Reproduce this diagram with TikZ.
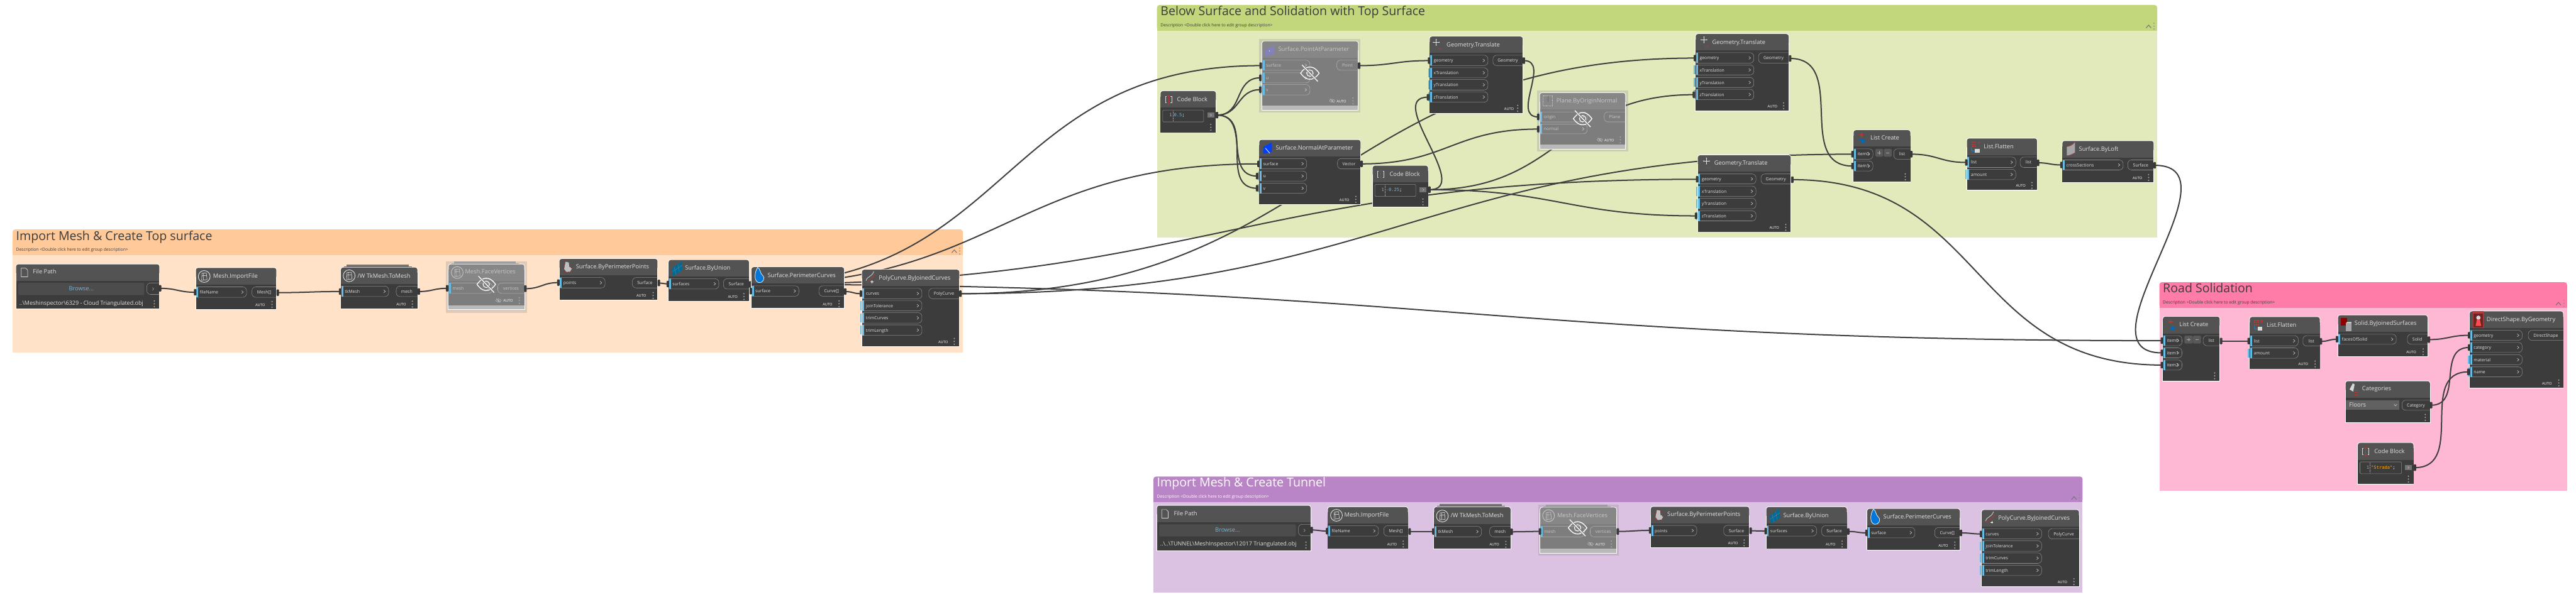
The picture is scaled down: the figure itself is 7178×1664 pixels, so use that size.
\documentclass[tikz,border=0pt]{standalone}
\usepackage{fontspec}
\setmainfont{Open Sans}
\newfontfamily\codefont{DejaVu Sans Mono}
\usetikzlibrary{calc}
\pgfdeclarelayer{grouplayer}
\pgfdeclarelayer{wirelayer}
\pgfsetlayers{grouplayer,wirelayer,main}
\definecolor{hdr}{HTML}{535353}
\definecolor{bdy}{HTML}{3C3C3C}
\definecolor{fhdr}{HTML}{878787}
\definecolor{fbdy}{HTML}{7D7D7D}
\definecolor{ffoot}{HTML}{B9B9B9}
\definecolor{wirec}{HTML}{404040}
\definecolor{portblue}{HTML}{68BBE3}
\definecolor{gtxt}{HTML}{3C3C3C}
\definecolor{redi}{HTML}{B23A3A}
\definecolor{ah}{HTML}{FFC999}\definecolor{ab}{HTML}{FFE2C8}
\definecolor{bh}{HTML}{C2D77B}\definecolor{bb}{HTML}{E2E9BB}
\definecolor{ch}{HTML}{FF7BA8}\definecolor{cb}{HTML}{FFB8D3}
\definecolor{dh}{HTML}{BA85C6}\definecolor{db}{HTML}{DCC2E2}
\colorlet{HC}{hdr}\colorlet{BC}{bdy}\colorlet{TC}{white!88!black}\colorlet{PLC}{white!55!black}
\tikzset{
  x=0.02cm,y=-0.02cm,
  wire/.style={draw=wirec,line width=2pt,line cap=round},
  lab/.style={inner sep=0pt,outer sep=0pt,anchor=west,text height=.75em,text depth=.2em},
  clab/.style={lab,anchor=center},
  title/.style={lab,font=\fontsize{9.3}{11}\selectfont,text=TC},
  portt/.style={lab,font=\fontsize{6.9}{8}\selectfont,text=TC},
  cportt/.style={clab,font=\fontsize{6.9}{8}\selectfont,text=TC},
  auto/.style={clab,font=\fontsize{5.7}{7}\selectfont,text=white},
  gtitle/.style={lab,font=\fontsize{19.5}{22}\selectfont},
  gdesc/.style={lab,font=\fontsize{6.7}{8}\selectfont},
  portline/.style={draw=PLC,line width=.55pt,rounded corners=6pt},
}
\newcounter{tn}
\newcommand{\T}[4][lab]{\stepcounter{tn}\node[#1] (t\arabic{tn}) at ({#2},{#3}) {#4};}
\newcommand{\Group}[9]{% x1 y1 yh x2 y2 hcol bcol title desc (text colour from \gcol)
  \begin{pgfonlayer}{grouplayer}
  \fill[#6,rounded corners=4pt] (#1,#2) rectangle (#4,#3);
  \fill[#6] (#1,#2+30) rectangle (#4,#3);
  \fill[#7] (#1,#3) rectangle (#4,#5);
  \end{pgfonlayer}
  \T[gtitle,text=\gcol]{#1+10}{#3-47}{#8}
  \T[gdesc,text=\gcol]{#1+10}{#3-16}{#9}
  \draw[black!55,line width=1pt] (#4-31,#3-7) -- (#4-24,#3-15) -- (#4-17,#3-7);
  \foreach \k in {-19,-11,-3}{\draw[black!45,line width=.3pt] (#4-9,#3+\k-1) circle (1.6);}
}
\newcommand{\Dyn}[9]{% name x1 y1 x2 y2 yh tx ty title
  \node[anchor=north west,inner sep=0pt,outer sep=0pt,minimum width={(#4-#2)*0.02cm},minimum height={(#5-#3)*0.02cm}] (#1) at (#2,#3) {};
  \fill[white,rounded corners=4pt] (#2-1.5,#3-1.5) rectangle (#4+1.5,#3+30);
  \fill[white] (#2-1.5,#3+15) rectangle (#4+1.5,#5+1.5);
  \fill[HC,rounded corners=3.5pt] (#2,#3) rectangle (#4,#3+30);
  \fill[HC] (#2,#3+15) rectangle (#4,#6);
  \fill[BC] (#2,#6) rectangle (#4,#5);
  \T[title]{#7}{#8}{#9}
}
\newcommand{\PIn}[6]{% x1 x2 y1 y2 label extra
  \draw[portline] (#1,#3) -- (#2,#3) -- (#2,#4) -- (#1,#4);
  \fill[portblue] (#1+1,#3) rectangle (#1+6.5,#4);
  \ifnum#6=1 \fill[portblue] (#1-5,#3+2) rectangle (#1-1,#4-2);\fi
  \T[portt]{#1+11}{(#3+#4)/2}{#5}
  \draw[white!85!black,line width=.5pt] (#2-14,{(#3+#4)/2-4}) -- (#2-9,{(#3+#4)/2}) -- (#2-14,{(#3+#4)/2+4});
}
\newcommand{\POut}[5]{% x1 x2 y1 y2 label
  \draw[portline] (#2,#3) -- (#1,#3) -- (#1,#4) -- (#2,#4);
  \T[cportt]{(#1+#2)/2}{(#3+#4)/2}{#5}
}
\newcommand{\Pin}[3]{\coordinate (#1) at (#2,#3);\fill[black!78,rounded corners=1pt] (#2-3.5,#3-9) rectangle (#2+3.5,#3+9);}
\newcommand{\Vd}[2]{\foreach \k in {-8,0,8}{\fill[black!35] (#1,#2+\k) circle (2);}}
\newcommand{\Auto}[3]{\T[auto]{#1}{#3}{AUTO}\Vd{#2}{#3}}
\newcommand{\Wire}[2]{\begin{pgfonlayer}{wirelayer}\draw[wire] let \p1=(#1),\p2=(#2),\n1={0.47*veclen(\x2-\x1,\y2-\y1)} in (\p1) .. controls ($(\p1)+(\n1,0pt)$) and ($(\p2)-(\n1,0pt)$) .. (\p2);\end{pgfonlayer}}
\newcommand{\Eye}[2]{\begin{scope}[shift={(#1,#2)}]
  \draw[white,line width=1.3pt,line join=round] (-26,0) .. controls (-14,-16) and (-6,-17) .. (0,-17) .. controls (6,-17) and (14,-16) .. (26,0) .. controls (14,16) and (6,17) .. (0,17) .. controls (-6,17) and (-14,16) .. (-26,0) -- cycle;
  \draw[white,line width=1.1pt] (0,0) circle (9);
  \draw[fbdy,line width=3pt] (-21,-22) -- (21,22);
  \draw[white,line width=1.3pt] (-22,-23) -- (22,23);
\end{scope}}
\newcommand{\SEye}[2]{\begin{scope}[shift={(#1,#2)},white!80!black,line width=.35pt]
  \draw (-8,0) .. controls (-3,-6) and (3,-6) .. (8,0) .. controls (3,6) and (-3,6) .. (-8,0);
  \draw (0,0) circle (2.5);\draw (-6,-6) -- (6,6);
\end{scope}}
\newcommand{\Halo}[4]{\fill[black!45,fill opacity=.28] (#1,#2) rectangle (#3,#4);}
\newcommand{\Stack}[4]{\colorlet{stk}{#4}\fill[stk] (#1+16,#3-8) rectangle (#2-24,#3-3);\fill[stk!75!black] (#1+8,#3-3) rectangle (#2-16,#3);}
\newcommand{\IMesh}[2]{\begin{scope}[shift={(#1,#2)}]\draw[TC,line width=.9pt] (0,0) circle (16.5);
  \draw[TC,line width=.6pt] (-6,-9) -- (6,-10) -- (8,9) -- (-7,11) -- cycle (-6,-2) -- (7,-3) (-2,-9.5) -- (-2,10);\end{scope}}
\newcommand{\IFile}[2]{\begin{scope}[shift={(#1,#2)}]\draw[white!85!black,line width=.7pt,line join=round] (-9,-12) -- (4,-12) -- (9,-7) -- (9,12) -- (-9,12) -- cycle;
  \foreach \k in {-4,0,4}{\fill[redi] (\k,3) circle (1.2);}\end{scope}}
\newcommand{\ISBPP}[2]{\begin{scope}[shift={(#1,#2)}]\fill[white!75!black] (-5,-14) -- (4,-12) -- (5,0) -- (13,4) -- (7,14) -- (-3,14) -- (-9,6) -- cycle;
  \foreach \a/\b in {-3/-17,6/-8,-10/-6,-11/4,12/3,4/15,-4/17,-9/13}{\fill[redi!85!black] (\a-1.5,\b-1.5) rectangle (\a+1.5,\b+1.5);}\end{scope}}
\newcommand{\ISBU}[2]{\begin{scope}[shift={(#1,#2)}]\fill[blue!30!cyan!60!black] (-15,0) -- (0,-10) -- (13,-20) -- (14,5) -- (2,14) -- (-12,22) -- cycle;
  \draw[black!50,line width=.3pt] (-14,10) -- (14,-8) (-8,-3) -- (-3,18) (2,-10) -- (6,10);\end{scope}}
\newcommand{\ISPC}[2]{\begin{scope}[shift={(#1,#2)}]\fill[blue!45!cyan!85!black,draw=white,line width=.7pt] (-6,-22) .. controls (2,-20) and (0,-6) .. (8,0) .. controls (17,8) and (8,22) .. (-2,20) .. controls (-16,18) and (-16,-6) .. (-6,-22) -- cycle;\end{scope}}
\newcommand{\IPC}[2]{\begin{scope}[shift={(#1,#2)},line width=.9pt]\draw[white!80!black] (-12,8) .. controls (-8,-6) and (2,0) .. (10,-18);\draw[redi] (-8,14) .. controls (-4,0) and (6,6) .. (12,-10);\draw[white,line width=.5pt] (1,11) -- (9,11) (5,7) -- (5,15);\end{scope}}
\newcommand{\IPoint}[2]{\begin{scope}[shift={(#1,#2)}]\fill[blue!30!gray!75!white] (-13,-3) -- (12,-15) -- (12,10) -- (-13,16) -- cycle;\fill[white] (-2,1) circle (1.3);\end{scope}}
\newcommand{\INormal}[2]{\begin{scope}[shift={(#1,#2)}]\fill[blue!75!cyan] (-12,-3) -- (12,-16) -- (12,11) -- (-12,16) -- cycle;\draw[white,line width=.7pt] (-6,0) -- (6,14);\end{scope}}
\newcommand{\ICode}[2]{\begin{scope}[shift={(#1,#2)},line width=.7pt]\draw[white!85!black] (-6,-9) -- (-9,-9) -- (-9,9) -- (-6,9) (6,-9) -- (9,-9) -- (9,9) -- (6,9);\draw[redi] (-3,-11) -- (3,-11) (0,-11) -- (0,11) (-3,11) -- (3,11);\end{scope}}
\newcommand{\ITrans}[2]{\begin{scope}[shift={(#1,#2)}]\draw[white!90!black,line width=.6pt] (-8,-6) -- (8,-6) (0,-14) -- (0,2);\foreach \a/\b in {-8/-6,8/-6,0/-14,0/2}{\fill[white!90!black] (\a,\b) circle (1.6);}\T[clab,font=\fontsize{3.8}{4}\selectfont,text=redi!80!gray]{8}{10}{XYZ}\end{scope}}
\newcommand{\IPlane}[2]{\begin{scope}[shift={(#1,#2)}]\draw[white!80!black,densely dotted,line width=.8pt] (-13,-14) rectangle (13,14);\draw[redi!70!gray,line width=1pt] (0,-14) -- (0,3);\end{scope}}
\newcommand{\ILC}[2]{\begin{scope}[shift={(#1,#2)}]\draw[redi,line width=1.4pt] (-6,-10) -- (6,-10) (0,-16) -- (0,-4);\draw[blue!40!cyan!70!black,line width=.6pt] (-8,3) rectangle (8,13);\foreach \k in {-4,0,4}{\draw[blue!40!cyan!70!black,line width=.5pt] (\k,3) -- (\k,13);}\end{scope}}
\newcommand{\ILF}[2]{\begin{scope}[shift={(#1,#2)}]\foreach \a in {-10,-5,0}{\foreach \b in {-15,-9,-3}{\fill[redi] (\a,\b) rectangle +(3.5,3.5);}}\draw[redi,line width=.5pt] (8,-8) -- (8,-14) -- (12,-14) -- (12,-8);\fill[white!85!black] (0,5) rectangle (13,15);\draw[blue!40!cyan,line width=.7pt] (-10,3) -- (-8,11) -- (-1,11);\end{scope}}
\newcommand{\ILoft}[2]{\begin{scope}[shift={(#1,#2)}]\fill[white!65!black] (-11,-7) .. controls (-3,-8) and (6,-12) .. (12,-20) -- (12,10) .. controls (4,14) and (-3,18) .. (-11,18) -- cycle;\draw[redi,line width=.6pt] (-11,-7) .. controls (-3,-8) and (6,-12) .. (12,-20) (-11,18) .. controls (-3,18) and (4,14) .. (12,10);\end{scope}}
\newcommand{\ISolid}[2]{\begin{scope}[shift={(#1,#2)}]\fill[red!55!black] (-16,-17) rectangle (2,4);\fill[white!65!black] (-2,-1) rectangle (14,20);\fill[white!85!black] (-2,-1) -- (2,-5) -- (14,-5) -- (14,-1) -- cycle;\end{scope}}
\newcommand{\IDS}[2]{\begin{scope}[shift={(#1,#2)}]\draw[redi,line width=.8pt,fill=redi!60!black] (-14,-17) rectangle (14,22);\fill[redi] (-15,-24) rectangle (15,-17);\fill[white!85!black] (0,-5) circle (6);\fill[red!70!white] (-4,0) -- (4,0) -- (8,18) -- (-8,18) -- cycle;\end{scope}}
\newcommand{\ICat}[2]{\begin{scope}[shift={(#1,#2)}]\fill[white!85!black] (-12,0) -- (-3,-17) -- (2,-14) -- (-2,6) -- cycle;\foreach \k in {3,9,15}{\draw[redi,line width=1pt] (2,\k) -- (12,\k);}\end{scope}}
\newcommand{\CodeBox}[9]{% x1 x2 y1 y2 btnx1 btnx2 midy numx code
  \draw[PLC,line width=.55pt,rounded corners=1.5pt] (#1,#3) rectangle (#2,#4);
  \T[clab,font=\fontsize{7.1}{8}\codefont,text=white!65!black]{#8}{#7}{1}
  \draw[black!40,line width=.3pt,densely dotted] (#8+6,#3+2) -- (#8+6,#4-2);
  \T[lab,font=\fontsize{7.1}{8}\codefont]{#8+9}{#7}{#9}
  \fill[black!55] (#5,#7-7) rectangle (#6,#7+7);
  \draw[white!80!black,line width=.4pt] (#5+8,#7-3) -- (#5+12,#7) -- (#5+8,#7+3);
}
\newcommand{\Browse}[6]{% x1 x2 y1 y2 outx1 outx2
  \fill[black!70,rounded corners=2pt] (#1,#3) rectangle (#2,#4);
  \T[clab,font=\fontsize{9.3}{11}\selectfont,text=portblue]{(#1+#2)/2}{(#3+#4)/2}{Browse...}
  \draw[portline] (#6,#3) -- (#5,#3) -- (#5,#4-2) -- (#6,#4-2);
  \draw[white!80!black,line width=.4pt] ({(#5+#6)/2-2},{(#3+#4)/2-4}) -- ({(#5+#6)/2+2},{(#3+#4)/2}) -- ({(#5+#6)/2-2},{(#3+#4)/2+4});
}
\newcommand{\BtnPM}[6]{% x1 x2 x3 x4 y1 y2
  \fill[black!65,rounded corners=1.5pt] (#1,#5) rectangle (#2,#6);
  \fill[black!65,rounded corners=1.5pt] (#3,#5) rectangle (#4,#6);
  \draw[white!65!black,line width=.8pt] ({(#1+#2)/2-5},{(#5+#6)/2}) -- ({(#1+#2)/2+5},{(#5+#6)/2}) ({(#1+#2)/2},{(#5+#6)/2-5}) -- ({(#1+#2)/2},{(#5+#6)/2+5});
  \draw[white!65!black,line width=.8pt] ({(#3+#4)/2-4},{(#5+#6)/2}) -- ({(#3+#4)/2+4},{(#5+#6)/2});
}
\newcommand{\FrozenOn}{\colorlet{HC}{fhdr}\colorlet{BC}{fbdy}\colorlet{TC}{white!78!black}\colorlet{PLC}{white!70!black}}
\newcommand{\FrozenOff}{\colorlet{HC}{hdr}\colorlet{BC}{bdy}\colorlet{TC}{white!88!black}\colorlet{PLC}{white!55!black}}
\begin{document}
\begin{tikzpicture}
\useasboundingbox (0,0) rectangle (7178,1664);
\begin{pgfonlayer}{grouplayer}\fill[white] (0,0) rectangle (7178,1664);\end{pgfonlayer}
% ---------------- groups
\def\gcol{gtxt}
\Group{35}{640}{712}{2683}{983}{ah}{ab}{Import Mesh \& Create Top surface}{Description <Double click here to edit group description>}
\Group{3224}{14}{85}{6011}{663}{bh}{bb}{Below Surface and Solidation with Top Surface}{Description <Double click here to edit group description>}
\Group{6017}{787}{858}{7153}{1368}{ch}{cb}{Road Solidation}{Description <Double click here to edit group description>}
\def\gcol{white}
\Group{3214}{1329}{1400}{5803}{1652}{dh}{db}{Import Mesh \& Create Tunnel}{Description <Double click here to edit group description>}
% ---------------- group A
\Dyn{afp}{45}{737}{444}{861}{783}{92}{759}{File Path}\IFile{68}{760}
\Browse{51}{402}{789}{823}{409}{444}
\T[lab,font=\fontsize{9}{10}\selectfont,text=TC]{54}{846}{..\textbackslash Meshinspector\textbackslash 6329 - Cloud Triangulated.obj}
\Vd{430}{847}\Pin{afpo}{446}{804}
\Dyn{aif}{546}{747}{770}{862}{794}{594}{770}{Mesh.ImportFile}\IMesh{569}{771}
\PIn{546}{687}{800}{829}{fileName}{0}\POut{702}{770}{800}{829}{Mesh[]}\Auto{725}{758}{849}
\Pin{aifi}{544}{815}\Pin{aifo}{774}{816}
\Stack{950}{1163}{746}{black!55}
\Dyn{atk}{950}{746}{1163}{861}{792}{996}{770}{/W TkMesh.ToMesh}\IMesh{973}{769}
\PIn{950}{1083}{798}{827}{tkMesh}{0}\POut{1104}{1163}{798}{827}{mesh}\Auto{1118}{1149}{848}
\Pin{atki}{948}{813}\Pin{atko}{1167}{813}
\Halo{1242}{729}{1469}{872}\FrozenOn
\Stack{1250}{1461}{737}{black!38}
\Dyn{afv}{1250}{737}{1461}{863}{783}{1296}{759}{Mesh.FaceVertices}\IMesh{1274}{760}
\fill[ffoot] (1250,852) rectangle (1461,863);
\PIn{1250}{1372}{789}{818}{mesh}{0}\POut{1387}{1461}{789}{818}{vertices}\Auto{1416}{1447}{838}\SEye{1389}{838}\Eye{1355}{793}
\Pin{afvi}{1246}{804}\Pin{afvo}{1464}{805}\FrozenOff
\Dyn{asp}{1559}{722}{1832}{836}{768}{1605}{744}{Surface.ByPerimeterPoints}\ISBPP{1581}{744}
\PIn{1559}{1686}{774}{803}{points}{0}\POut{1762}{1832}{774}{803}{Surface}\Auto{1787}{1820}{824}
\Pin{aspi}{1556}{788}\Pin{aspo}{1836}{789}
\Dyn{asu}{1863}{725}{2087}{839}{771}{1909}{748}{Surface.ByUnion}\ISBU{1887}{748}
\PIn{1863}{2003}{777}{806}{surfaces}{0}\POut{2016}{2087}{777}{806}{Surface}\Auto{2042}{2073}{827}
\Pin{asui}{1861}{792}\Pin{asuo}{2090}{793}
\Dyn{apc}{2094}{745}{2352}{859}{791}{2139}{768}{Surface.PerimeterCurves}\ISPC{2117}{768}
\PIn{2094}{2226}{797}{826}{surface}{0}\POut{2282}{2352}{797}{826}{Curve[]}\Auto{2306}{2338}{847}
\Pin{apci}{2092}{812}\Pin{apco}{2355}{813}
\Dyn{apj}{2402}{752}{2673}{965}{798}{2449}{775}{PolyCurve.ByJoinedCurves}\IPC{2425}{775}
\PIn{2402}{2569}{804}{833}{curves}{0}\PIn{2402}{2569}{838}{867}{joinTolerance}{1}\PIn{2402}{2569}{872}{901}{trimCurves}{1}\PIn{2402}{2569}{906}{935}{trimLength}{1}
\POut{2588}{2673}{804}{833}{PolyCurve}\Auto{2628}{2659}{952}
\Pin{apji}{2399}{819}\Pin{apjo}{2676}{819}
% ---------------- group B
\Dyn{bc1}{3234}{254}{3388}{369}{300}{3280}{278}{Code Block}\ICode{3256}{278}
\CodeBox{3240}{3354}{307}{340}{3364}{3384}{321}{3262}{\textcolor{portblue}{0.5}\textcolor{white}{;}}
\Vd{3374}{355}\Pin{bc1o}{3391}{321}
\Halo{3509}{108}{3791}{314}\FrozenOn
\Dyn{bpt}{3517}{115}{3784}{307}{162}{3562}{138}{Surface.PointAtParameter}\IPoint{3539}{141}
\fill[ffoot] (3517,294) rectangle (3784,307);
\PIn{3517}{3650}{168}{196}{surface}{0}\PIn{3517}{3650}{203}{231}{u}{1}\PIn{3517}{3650}{236}{265}{v}{1}\POut{3725}{3784}{168}{196}{Point}
\Auto{3738}{3770}{281}\SEye{3712}{281}\Eye{3650}{204}
\Pin{bpts}{3513}{183}\Pin{bptu}{3512}{217}\Pin{bptv}{3512}{250}\Pin{bpto}{3787}{183}\FrozenOff
\Dyn{bnm}{3509}{390}{3791}{569}{436}{3555}{413}{Surface.NormalAtParameter}\INormal{3532}{413}
\PIn{3509}{3641}{442}{471}{surface}{0}\PIn{3509}{3641}{477}{505}{u}{1}\PIn{3509}{3641}{511}{539}{v}{1}\POut{3727}{3791}{442}{471}{Vector}
\Auto{3746}{3778}{556}\Pin{bnms}{3507}{457}\Pin{bnmu}{3503}{491}\Pin{bnmv}{3503}{525}\Pin{bnmo}{3794}{457}
\Dyn{bc2}{3825}{462}{3979}{577}{508}{3872}{486}{Code Block}\ICode{3847}{486}
\CodeBox{3831}{3945}{514}{548}{3956}{3975}{529}{3853}{\textcolor{portblue}{-0.25}\textcolor{white}{;}}
\Vd{3965}{563}\Pin{bc2o}{3983}{529}
\Dyn{bt1}{3984}{102}{4243}{315}{148}{4031}{125}{Geometry.Translate}\ITrans{4002}{124}
\PIn{3984}{4146}{154}{183}{geometry}{0}\PIn{3984}{4146}{189}{217}{xTranslation}{1}\PIn{3984}{4146}{222}{251}{yTranslation}{1}\PIn{3984}{4146}{256}{285}{zTranslation}{1}\POut{4160}{4243}{154}{183}{Geometry}
\Auto{4205}{4229}{302}\Pin{bt1g}{3982}{169}\Pin{bt1z}{3979}{271}\Pin{bt1o}{4246}{169}
\Halo{4283}{252}{4537}{423}\FrozenOn
\Dyn{bpl}{4291}{259}{4529}{415}{305}{4337}{281}{Plane.ByOriginNormal}\IPlane{4313}{281}
\fill[ffoot] (4291,403) rectangle (4529,415);
\PIn{4291}{4423}{312}{340}{origin}{1}\PIn{4291}{4423}{346}{373}{normal}{1}\POut{4470}{4529}{312}{340}{Plane}
\Auto{4484}{4515}{390}\SEye{4458}{390}\Eye{4410}{331}
\Pin{bplo}{4286}{326}\Pin{bpln}{4286}{360}\FrozenOff
\Dyn{bt2}{4725}{95}{4984}{308}{141}{4771}{118}{Geometry.Translate}\ITrans{4748}{117}
\PIn{4725}{4887}{147}{176}{geometry}{0}\PIn{4725}{4887}{181}{209}{xTranslation}{1}\PIn{4725}{4887}{216}{244}{yTranslation}{1}\PIn{4725}{4887}{249}{278}{zTranslation}{1}\POut{4900}{4984}{147}{176}{Geometry}
\Auto{4939}{4970}{295}\Pin{bt2g}{4723}{162}\Pin{bt2z}{4720}{264}\Pin{bt2o}{4988}{163}
\Dyn{bt3}{4731}{433}{4990}{646}{479}{4777}{455}{Geometry.Translate}\ITrans{4755}{455}
\PIn{4731}{4893}{485}{513}{geometry}{0}\PIn{4731}{4893}{519}{548}{xTranslation}{1}\PIn{4731}{4893}{553}{582}{yTranslation}{1}\PIn{4731}{4893}{588}{616}{zTranslation}{1}\POut{4907}{4990}{485}{513}{Geometry}
\Auto{4944}{4976}{634}\Pin{bt3g}{4729}{500}\Pin{bt3z}{4726}{602}\Pin{bt3o}{4994}{501}
\Dyn{blc}{5165}{363}{5323}{506}{409}{5212}{385}{List Create}\ILC{5187}{386}
\PIn{5165}{5219}{415}{444}{item0}{0}\PIn{5165}{5219}{449}{477}{item1}{0}\POut{5277}{5323}{415}{444}{list}\BtnPM{5226}{5247}{5249}{5271}{415}{437}
\Vd{5309}{493}\Pin{blc0}{5162}{430}\Pin{blc1}{5162}{463}\Pin{blco}{5326}{430}
\Dyn{blf}{5481}{386}{5676}{530}{432}{5528}{409}{List.Flatten}\ILF{5503}{410}
\PIn{5481}{5617}{438}{467}{list}{0}\PIn{5481}{5617}{472}{501}{amount}{1}\POut{5629}{5676}{438}{467}{list}\Auto{5631}{5662}{517}
\Pin{blfi}{5479}{453}\Pin{blfo}{5679}{454}
\Dyn{blt}{5747}{393}{6001}{508}{440}{5793}{416}{Surface.ByLoft}\ILoft{5770}{416}
\PIn{5747}{5916}{446}{474}{crossSections}{0}\POut{5929}{6001}{446}{474}{Surface}\Auto{5956}{5987}{495}
\Pin{blti}{5744}{460}\Pin{blto}{6004}{461}
% ---------------- group C
\Dyn{clc}{6027}{883}{6185}{1062}{930}{6073}{906}{List Create}\ILC{6049}{907}
\PIn{6027}{6080}{936}{964}{item0}{0}\PIn{6027}{6080}{970}{998}{item1}{0}\PIn{6027}{6080}{1004}{1032}{item2}{0}\POut{6139}{6185}{936}{964}{list}\BtnPM{6087}{6110}{6111}{6133}{936}{958}
\Vd{6171}{1048}\Pin{clc0}{6024}{950}\Pin{clc1}{6024}{984}\Pin{clc2}{6024}{1018}\Pin{clco}{6189}{951}
\Dyn{clf}{6269}{884}{6464}{1028}{930}{6316}{907}{List.Flatten}\ILF{6291}{907}
\PIn{6269}{6404}{936}{965}{list}{0}\PIn{6269}{6404}{970}{999}{amount}{1}\POut{6417}{6464}{936}{965}{list}\Auto{6418}{6451}{1015}
\Pin{clfi}{6266}{951}\Pin{clfo}{6467}{952}
\Dyn{csl}{6515}{879}{6764}{994}{926}{6561}{902}{Solid.ByJoinedSurfaces}\ISolid{6538}{903}
\PIn{6515}{6677}{932}{960}{facesOfSolid}{0}\POut{6708}{6764}{932}{960}{Solid}\Auto{6719}{6752}{981}
\Pin{csli}{6512}{946}\Pin{cslo}{6768}{947}
\Dyn{cds}{6882}{868}{7142}{1081}{914}{6929}{891}{DirectShape.ByGeometry}\IDS{6906}{891}
\PIn{6882}{7028}{921}{949}{geometry}{0}\PIn{6882}{7028}{955}{983}{category}{0}\PIn{6882}{7028}{989}{1017}{material}{1}\PIn{6882}{7028}{1023}{1051}{name}{1}\POut{7045}{7142}{921}{949}{DirectShape}
\Auto{7097}{7130}{1068}\Pin{cdsg}{6880}{935}\Pin{cdsc}{6880}{969}\Pin{cdsn}{6878}{1037}
\Dyn{cct}{6536}{1063}{6771}{1177}{1109}{6582}{1085}{Categories}\ICat{6559}{1086}
\fill[black!62] (6536,1116) rectangle (6685,1143);
\T[lab,font=\fontsize{9.3}{11}\selectfont,text=TC]{6546}{1130}{Floors}
\draw[white!85!black,line width=.5pt] (6671,1127) -- (6675,1132) -- (6679,1127);
\POut{6693}{6771}{1116}{1144}{Category}\Vd{6758}{1164}\Pin{ccto}{6774}{1130}
\Dyn{ccb}{6570}{1235}{6725}{1350}{1282}{6616}{1259}{Code Block}\ICode{6591}{1259}
\CodeBox{6576}{6692}{1288}{1321}{6701}{6721}{1304}{6598}{\textcolor{orange!70!yellow}{"Strada"}\textcolor{white}{;}}
\Vd{6711}{1336}\Pin{ccbo}{6729}{1304}
% ---------------- group D
\Dyn{dfp}{3224}{1410}{3652}{1535}{1456}{3271}{1433}{File Path}\IFile{3246}{1433}
\Browse{3230}{3611}{1462}{1496}{3618}{3652}
\T[lab,font=\fontsize{9}{10}\selectfont,text=TC]{3233}{1518}{..\textbackslash..\textbackslash TUNNEL\textbackslash MeshInspector\textbackslash 12017 Triangulated.obj}
\Vd{3639}{1520}\Pin{dfpo}{3655}{1478}
\Dyn{dif}{3700}{1414}{3923}{1529}{1460}{3746}{1437}{Mesh.ImportFile}\IMesh{3724}{1437}
\PIn{3700}{3841}{1466}{1495}{fileName}{0}\POut{3856}{3923}{1466}{1495}{Mesh[]}\Auto{3879}{3910}{1517}
\Pin{difi}{3698}{1481}\Pin{difo}{3928}{1482}
\Stack{3996}{4209}{1414}{black!55}
\Dyn{dtk}{3996}{1414}{4209}{1530}{1462}{4042}{1438}{/W TkMesh.ToMesh}\IMesh{4019}{1439}
\PIn{3996}{4128}{1468}{1497}{tkMesh}{0}\POut{4151}{4209}{1468}{1497}{mesh}\Auto{4164}{4196}{1518}
\Pin{dtki}{3994}{1482}\Pin{dtko}{4212}{1483}
\Halo{4286}{1408}{4511}{1550}\FrozenOn
\Stack{4292}{4504}{1415}{black!38}
\Dyn{dfv}{4292}{1415}{4504}{1542}{1462}{4339}{1438}{Mesh.FaceVertices}\IMesh{4315}{1438}
\fill[ffoot] (4292,1530) rectangle (4504,1542);
\PIn{4292}{4415}{1468}{1497}{mesh}{0}\POut{4431}{4504}{1468}{1497}{vertices}\Auto{4459}{4490}{1517}\SEye{4432}{1517}\Eye{4396}{1472}
\Pin{dfvi}{4291}{1482}\Pin{dfvo}{4508}{1482}\FrozenOff
\Dyn{dsp}{4600}{1413}{4874}{1527}{1459}{4646}{1435}{Surface.ByPerimeterPoints}\ISBPP{4622}{1436}
\PIn{4600}{4728}{1465}{1494}{points}{0}\POut{4803}{4874}{1465}{1494}{Surface}\Auto{4829}{4860}{1514}
\Pin{dspi}{4598}{1479}\Pin{dspo}{4878}{1480}
\Dyn{dsu}{4922}{1414}{5146}{1529}{1460}{4969}{1438}{Surface.ByUnion}\ISBU{4946}{1438}
\PIn{4922}{5062}{1466}{1495}{surfaces}{0}\POut{5076}{5146}{1466}{1495}{Surface}\Auto{5101}{5133}{1517}
\Pin{dsui}{4920}{1481}\Pin{dsuo}{5150}{1482}
\Dyn{dpc}{5203}{1419}{5461}{1533}{1465}{5248}{1442}{Surface.PerimeterCurves}\ISPC{5226}{1442}
\PIn{5203}{5336}{1471}{1500}{surface}{0}\POut{5391}{5461}{1471}{1500}{Curve[]}\Auto{5415}{5447}{1520}
\Pin{dpci}{5201}{1486}\Pin{dpco}{5464}{1486}
\Dyn{dpj}{5522}{1422}{5793}{1635}{1468}{5568}{1446}{PolyCurve.ByJoinedCurves}\IPC{5545}{1445}
\PIn{5522}{5689}{1474}{1503}{curves}{0}\PIn{5522}{5689}{1508}{1537}{joinTolerance}{1}\PIn{5522}{5689}{1542}{1571}{trimCurves}{1}\PIn{5522}{5689}{1576}{1605}{trimLength}{1}
\POut{5708}{5793}{1474}{1503}{PolyCurve}\Auto{5747}{5779}{1622}\Pin{dpji}{5520}{1489}
% ---------------- wires
\Wire{afpo}{aifi}\Wire{aifo}{atki}\Wire{atko}{afvi}\Wire{afvo}{aspi}\Wire{aspo}{asui}\Wire{asuo}{apci}\Wire{apco}{apji}
\Wire{asuo}{bpts}\Wire{asuo}{bnms}\Wire{asuo}{bt3g}\Wire{asuo}{clc0}
\Wire{apjo}{bt2g}\Wire{apjo}{blc0}
\Wire{bc1o}{bptu}\Wire{bc1o}{bptv}\Wire{bc1o}{bnmu}\Wire{bc1o}{bnmv}
\Wire{bpto}{bt1g}\Wire{bnmo}{bpln}\Wire{bt1o}{bplo}
\Wire{bc2o}{bt1z}\Wire{bc2o}{bt2z}\Wire{bc2o}{bt3z}
\Wire{bt2o}{blc1}\Wire{bt3o}{clc2}\Wire{blco}{blfi}\Wire{blfo}{blti}\Wire{blto}{clc1}
\Wire{clco}{clfi}\Wire{clfo}{csli}\Wire{cslo}{cdsg}\Wire{ccto}{cdsc}\Wire{ccbo}{cdsn}
\Wire{dfpo}{difi}\Wire{difo}{dtki}\Wire{dtko}{dfvi}\Wire{dfvo}{dspi}\Wire{dspo}{dsui}\Wire{dsuo}{dpci}\Wire{dpco}{dpji}
\end{tikzpicture}
\end{document}
